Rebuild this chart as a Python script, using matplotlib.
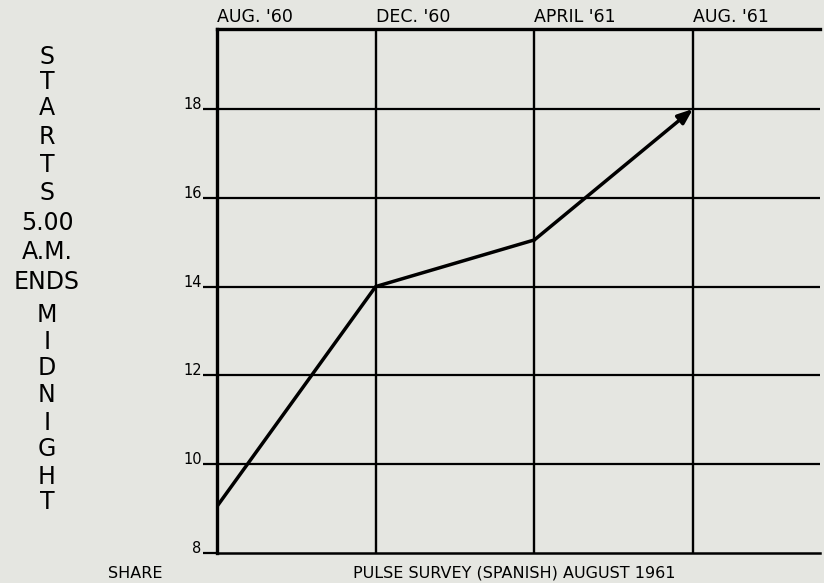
import matplotlib.pyplot as plt
import numpy as np

# survey dates along the top, share values on the left
periods = ["AUG. '60", "DEC. '60", "APRIL '61", "AUG. '61"]
share = [9.05, 14.0, 15.05, 18.0]
y_ticks = [8, 10, 12, 14, 16, 18]
side_words = ['S', 'T', 'A', 'R', 'T', 'S', '5.00', 'A.M.', 'ENDS',
              'M', 'I', 'D', 'N', 'I', 'G', 'H', 'T']
side_y = [57, 82, 108, 137, 165, 193, 223, 252, 282,
          315, 342, 368, 395, 423, 449, 477, 502]

bg = '#e5e6e1'
W, H = 824, 583
fig = plt.figure(figsize=(W / 100, H / 100), dpi=100, facecolor=bg)
ax = fig.add_axes([217 / W, 1 - 553 / H, (820 - 217) / W, (553 - 29) / H])
ax.set_facecolor(bg)

x = np.arange(len(periods))

# grid drawn by hand so it looks like the original
for xv in x[1:]:
    ax.axvline(xv, color='black', lw=1.7, zorder=1)
for yv in y_ticks[1:]:
    ax.axhline(yv, color='black', lw=1.6, zorder=1)

ax.plot(x[:-1], share[:-1], color='black', lw=2.5, solid_capstyle='round', zorder=3)
ax.annotate('', xy=(x[-1], share[-1]), xytext=(x[-2], share[-2]),
            arrowprops=dict(arrowstyle='-|>,head_length=0.9,head_width=0.35',
                            color='black', lw=2.5, shrinkA=0, shrinkB=0),
            zorder=3)

ax.set_xlim(0, 3.8)
ax.set_ylim(8, 19.8)

ax.spines['right'].set_visible(False)
ax.spines['left'].set_linewidth(2.4)
ax.spines['top'].set_linewidth(2.4)
ax.spines['bottom'].set_linewidth(1.8)

ax.xaxis.tick_top()
ax.set_xticks(x)
ax.set_xticklabels(periods, fontsize=12.5, ha='left')
ax.tick_params(axis='x', length=0, pad=2)

ax.set_yticks(y_ticks)
ax.set_yticklabels([str(v) for v in y_ticks], fontsize=10.5, va='baseline')
ax.tick_params(axis='y', length=10, width=1.6, direction='out', pad=1)

for word, yp in zip(side_words, side_y):
    fig.text(47 / W, 1 - yp / H, word, fontsize=17, ha='center', va='center')

fig.text(135 / W, 1 - 573 / H, 'SHARE', fontsize=11.5, ha='center', va='center')
fig.text(514 / W, 1 - 573 / H, 'PULSE SURVEY (SPANISH) AUGUST 1961',
         fontsize=11.5, ha='center', va='center')

fig.savefig('out.png', dpi=100, facecolor=bg)
